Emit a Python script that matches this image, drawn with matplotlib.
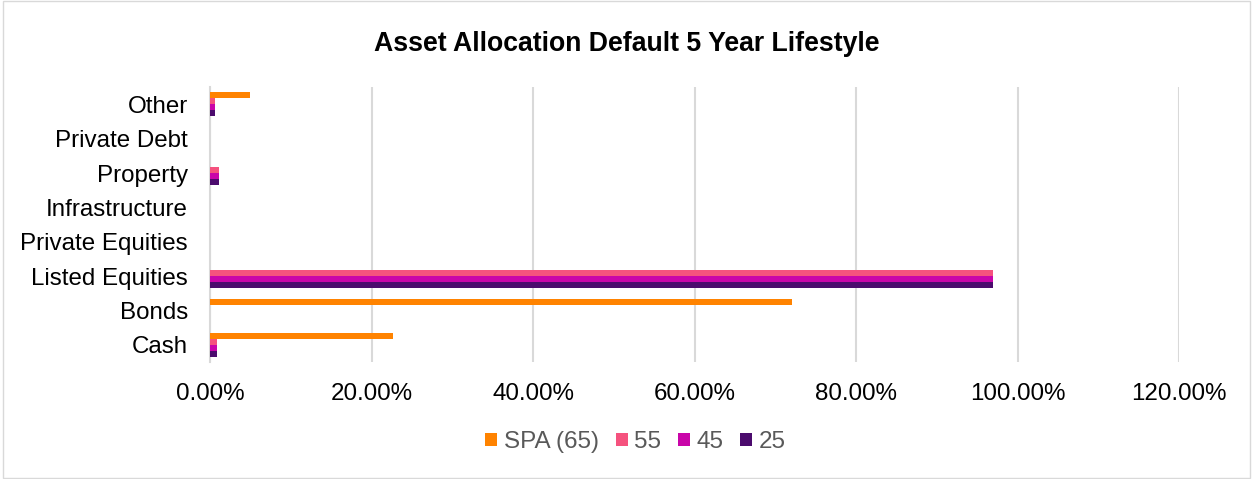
import numpy as np
import matplotlib.pyplot as plt
from matplotlib.ticker import FuncFormatter
from matplotlib.patches import Rectangle

plt.rcParams['font.family'] = ['Liberation Sans', 'DejaVu Sans']

# -----------------------------
# Data
# -----------------------------
categories = ["Cash", "Bonds", "Listed Equities", "Private Equities",
              "Infrastructure", "Property", "Private Debt", "Other"]
series_names = ["SPA (65)", "55", "45", "25"]
spa_65 = [0.227, 0.72, 0.0, 0.0, 0.0, 0.0, 0.0, 0.05]
age_55 = [0.009, 0.0, 0.97, 0.0, 0.0, 0.011, 0.0, 0.006]
age_45 = [0.009, 0.0, 0.97, 0.0, 0.0, 0.011, 0.0, 0.006]
age_25 = [0.009, 0.0, 0.97, 0.0, 0.0, 0.011, 0.0, 0.006]
colors = ["#FF8300", "#F5527E", "#C905A9", "#4B0B6D"]

# -----------------------------
# Plot
# -----------------------------
fig = plt.figure(figsize=(12.53, 4.79), dpi=100)
ax = fig.add_axes([0.1676, 0.244, 0.7735, 0.574])

y = np.arange(len(categories))
h = 0.175
offsets = [1.5 * h, 0.5 * h, -0.5 * h, -1.5 * h]
for vals, name, col, off in zip([spa_65, age_55, age_45, age_25],
                                series_names, colors, offsets):
    ax.barh(y + off, vals, height=h, color=col, label=name, zorder=3)

ax.set_xlim(0, 1.2)
ax.set_ylim(-0.5, len(categories) - 0.5)
ax.set_xticks(np.arange(0, 1.21, 0.2))
ax.xaxis.set_major_formatter(FuncFormatter(lambda v, p: f"{v * 100:.2f}%"))
ax.set_yticks(y)
ax.set_yticklabels(categories)
ax.tick_params(axis="both", length=0, labelsize=17.4, colors="black")
ax.tick_params(axis="x", pad=15)
ax.tick_params(axis="y", pad=16)
ax.grid(axis="x", color="#D9D9D9", linewidth=1.5, zorder=0)
for s in ["top", "right", "bottom"]:
    ax.spines[s].set_visible(False)
ax.spines["left"].set_color("#D9D9D9")
ax.spines["left"].set_linewidth(1.5)

fig.suptitle("Asset Allocation Default 5 Year Lifestyle", fontsize=19.2,
             fontweight="bold", y=0.935)

leg = fig.legend(loc="center", bbox_to_anchor=(0.507, 0.077), ncol=4,
                 frameon=False, fontsize=17.5, handlelength=0.5,
                 handleheight=0.5, handletextpad=0.25, columnspacing=0.7)
for t in leg.get_texts():
    t.set_color("#595959")

fig.patches.append(Rectangle((0.002, 0.002), 0.996, 0.996,
                             transform=fig.transFigure, fill=False,
                             edgecolor="#D9D9D9", linewidth=1))

fig.savefig("out.png", dpi=100)
